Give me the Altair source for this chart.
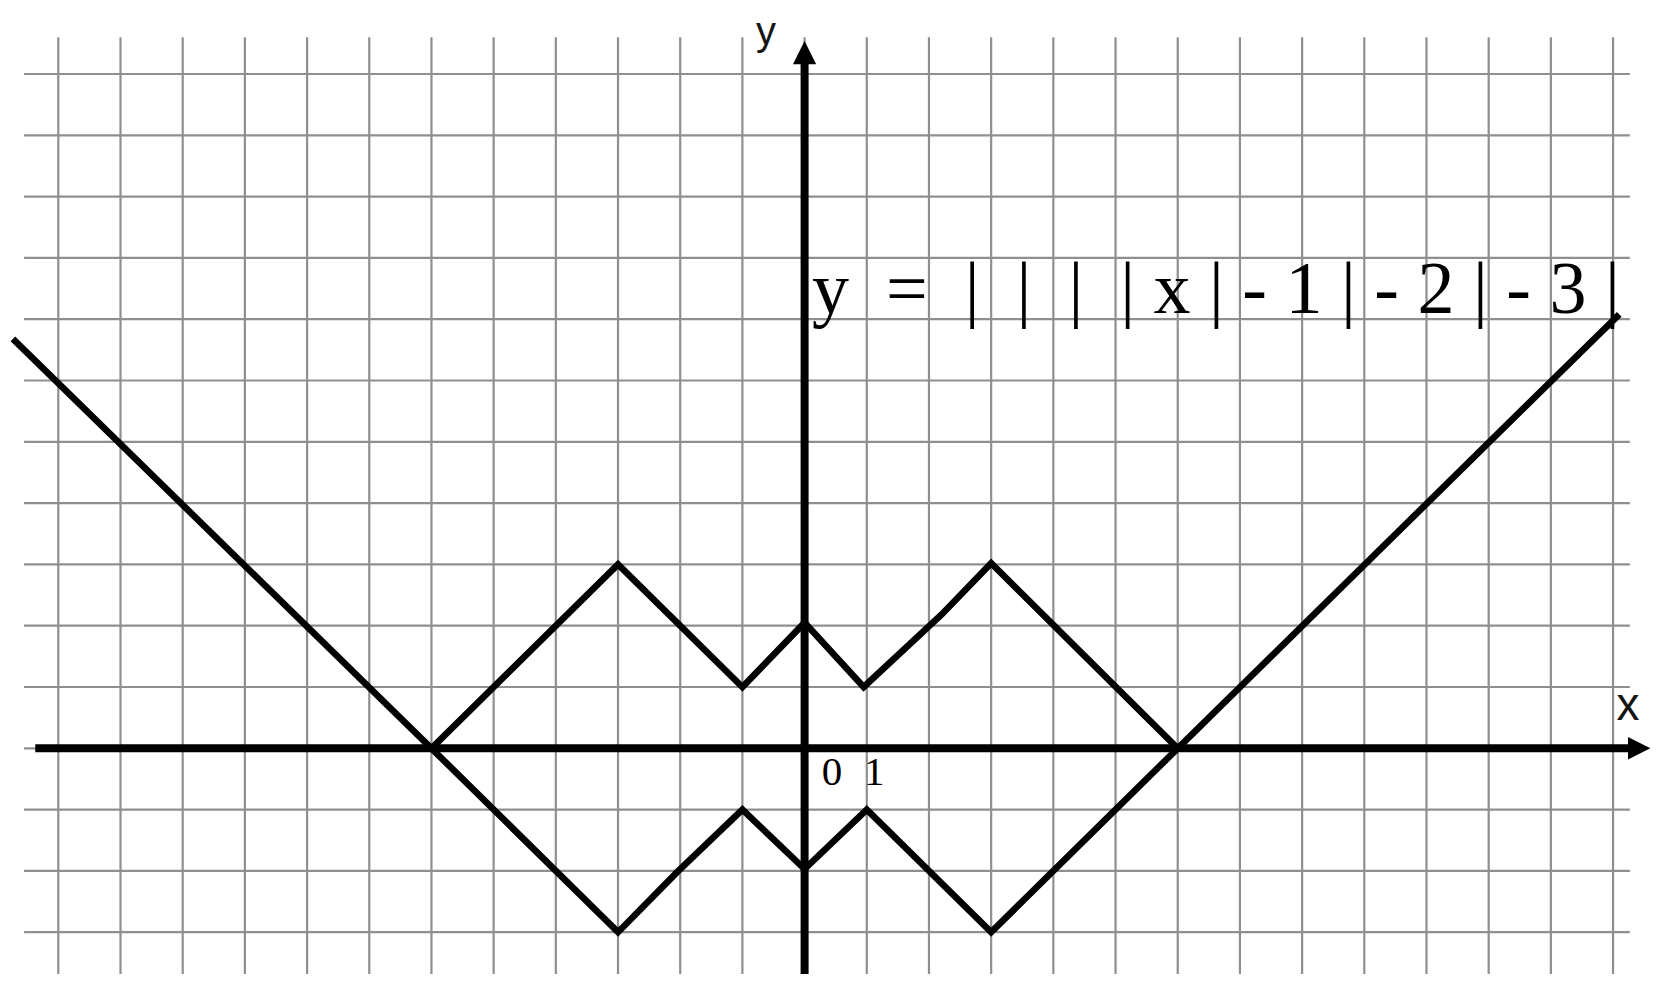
import altair as alt
import pandas as pd

# ---------------- data ----------------
grid_x = list(range(-12, 14))          # vertical grid lines at integer x
grid_y = list(range(-3, 12))           # horizontal grid lines at integer y
grid_v_span = [-3.75, 11.6]            # y-extent of the vertical grid lines
grid_h_span = [-12.55, 13.27]          # x-extent of the horizontal grid lines

axis_x_span = [-12.37, 13.25]          # x axis line (y = 0)
axis_y_span = [-3.75, 11.2]            # y axis line (x = 0)

# outer broken line (V with the lower "mirror" part)
outer_x = [-12.73, -6, -3, -2.05, -1, 0, 1, 3, 6, 13.1]
outer_y = [6.68, 0, -3, -2.02, -1, -1.97, -1, -3, 0, 7.08]
# inner broken line y = ||||x|-1|-2|-3| between -6 and 6
inner_x = [-6, -3, -1, 0, 0.95, 2.2, 3, 6]
inner_y = [0, 3, 1, 2.05, 1, 2.18, 3.02, 0]

formula = "y\u00a0\u00a0=\u00a0\u00a0|\u00a0\u00a0|\u00a0\u00a0|\u00a0\u00a0|\u00a0x\u00a0|\u00a0-\u00a01\u00a0|\u00a0-\u00a02\u00a0|\u00a0-\u00a03\u00a0|"

# ---------------- layout ----------------
W, H = 1643, 966
X_DOMAIN = [-12.809, 13.610]
Y_DOMAIN = [-3.682, 12.077]


def X(field):
    return alt.X(field, type="quantitative",
                 scale=alt.Scale(domain=X_DOMAIN, nice=False, zero=False), axis=None)


def Y(field):
    return alt.Y(field, type="quantitative",
                 scale=alt.Scale(domain=Y_DOMAIN, nice=False, zero=False), axis=None)


GRID = "#8f8f8f"

vgrid_df = pd.DataFrame({"gx": grid_x, "y1": grid_v_span[0], "y2": grid_v_span[1]})
hgrid_df = pd.DataFrame({"gy": grid_y, "x1": grid_h_span[0], "x2": grid_h_span[1]})

vgrid = alt.Chart(vgrid_df).mark_rule(color=GRID, strokeWidth=2.2).encode(
    x=X("gx"), y=Y("y1"), y2="y2")
hgrid = alt.Chart(hgrid_df).mark_rule(color=GRID, strokeWidth=2.2).encode(
    y=Y("gy"), x=X("x1"), x2="x2")

xaxis_df = pd.DataFrame({"x1": [axis_x_span[0]], "x2": [axis_x_span[1]], "y": [0]})
yaxis_df = pd.DataFrame({"y1": [axis_y_span[0]], "y2": [axis_y_span[1]], "x": [0]})

xaxis = alt.Chart(xaxis_df).mark_rule(color="black", strokeWidth=8.0).encode(
    x=X("x1"), x2="x2", y=Y("y"))
yaxis = alt.Chart(yaxis_df).mark_rule(color="black", strokeWidth=8.0).encode(
    y=Y("y1"), y2="y2", x=X("x"))

arrow_x_df = pd.DataFrame({"x": [13.42], "y": [0]})
arrow_y_df = pd.DataFrame({"x": [0], "y": [11.35]})

arrow_x = alt.Chart(arrow_x_df).mark_point(
    shape="M1,0L-1,-1L-1,1Z", filled=True, color="black", opacity=1, size=500, strokeWidth=0
).encode(x=X("x"), y=Y("y"))
arrow_y = alt.Chart(arrow_y_df).mark_point(
    shape="M0,-1L1,1L-1,1Z", filled=True, color="black", opacity=1, size=540, strokeWidth=0
).encode(x=X("x"), y=Y("y"))

outer_df = pd.DataFrame({"x": outer_x, "y": outer_y, "i": range(len(outer_x))})
inner_df = pd.DataFrame({"x": inner_x, "y": inner_y, "i": range(len(inner_x))})

outer = alt.Chart(outer_df).mark_line(
    color="black", strokeWidth=6.6, strokeJoin="miter", strokeMiterLimit=10
).encode(x=X("x"), y=Y("y"), order="i:Q")
inner = alt.Chart(inner_df).mark_line(
    color="black", strokeWidth=6.6, strokeJoin="miter", strokeMiterLimit=10
).encode(x=X("x"), y=Y("y"), order="i:Q")

# text labels
formula_df = pd.DataFrame({"x": [0.12], "y": [7.10], "t": [formula]})
formula_txt = alt.Chart(formula_df).mark_text(
    font="Liberation Serif", fontSize=74, align="left", baseline="alphabetic", color="black"
).encode(x=X("x"), y=Y("y"), text="t:N")

ylab_df = pd.DataFrame({"x": [-0.62], "y": [11.48], "t": ["y"]})
xlab_df = pd.DataFrame({"x": [13.24], "y": [0.46], "t": ["x"]})
ylab = alt.Chart(ylab_df).mark_text(
    font="Liberation Sans", fontSize=40, align="center", baseline="alphabetic", color="#151515"
).encode(x=X("x"), y=Y("y"), text="t:N")
xlab = alt.Chart(xlab_df).mark_text(
    font="Liberation Sans", fontSize=46, align="center", baseline="alphabetic", color="#151515"
).encode(x=X("x"), y=Y("y"), text="t:N")

nums_df = pd.DataFrame({"x": [0.44, 1.12], "y": [-0.60, -0.60], "t": ["0", "1"]})
nums = alt.Chart(nums_df).mark_text(
    font="Liberation Serif", fontSize=41, align="center", baseline="alphabetic", color="black"
).encode(x=X("x"), y=Y("y"), text="t:N")

chart = alt.layer(
    vgrid, hgrid, xaxis, yaxis, arrow_x, arrow_y, outer, inner, formula_txt, ylab, xlab, nums
).properties(
    width=W, height=H, padding=0,
    autosize=alt.AutoSizeParams(type="none"),
    background="white",
).configure_view(strokeWidth=0)

chart.save("out.html", embed_options={"renderer": "svg", "actions": False})
